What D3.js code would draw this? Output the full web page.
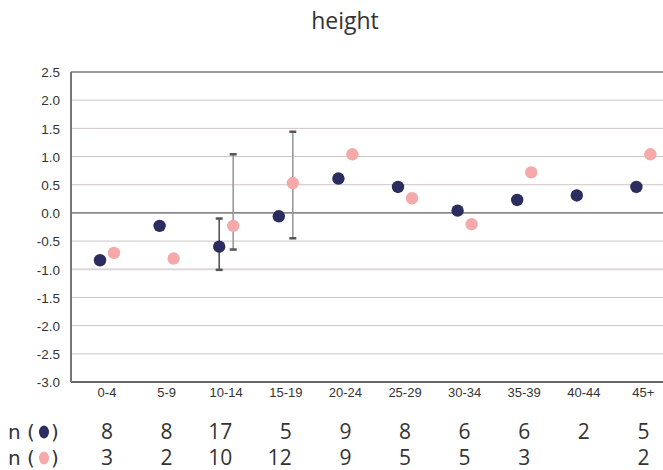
<!DOCTYPE html>
<html><head><meta charset="utf-8">
<script src="https://cdn.jsdelivr.net/npm/d3@7"></script>
<style>body{margin:0;background:#fff}svg{display:block}</style>
</head><body>
<script>
const categories = ["0-4","5-9","10-14","15-19","20-24","25-29","30-34","35-39","40-44","45+"];
const navyValues = [-0.84,-0.23,-0.60,-0.06,0.61,0.46,0.04,0.23,0.31,0.46];
const pinkValues = [-0.71,-0.81,-0.23,0.53,1.04,0.26,-0.20,0.72,null,1.04];
const navyErrLow  = [null,null,-1.01,null,null,null,null,null,null,null];
const navyErrHigh = [null,null,-0.10,null,null,null,null,null,null,null];
const pinkErrLow  = [null,null,-0.65,-0.45,null,null,null,null,null,null];
const pinkErrHigh = [null,null,1.04,1.44,null,null,null,null,null,null];
const navyN = ["8","8","17","5","9","8","6","6","2","5"];
const pinkN = ["3","2","10","12","9","5","5","3","","2"];
const yTicks = [2.5,2.0,1.5,1.0,0.5,0.0,-0.5,-1.0,-1.5,-2.0,-2.5,-3.0];
const title = "height";

(function(){
const W = 663, H = 470;
const svg = d3.select("body").append("svg").attr("width", W).attr("height", H);
const left = 71, plotTop = 72, bottom = 382;
const x = d3.scaleBand().domain(categories).range([77.2, 673.2]);
const y = d3.scaleLinear().domain([-3, 2.5]).range([bottom, plotTop]);
const navyC = "#2b2d5e", pinkC = "#f6a9a9";
const off = 7;

svg.append("text").attr("x", 345).attr("y", 29).attr("text-anchor","middle")
  .attr("font-family","Open Sans, sans-serif").attr("font-size",23).attr("fill","#333").text(title);

// gridlines
svg.append("g").selectAll("line").data(yTicks.filter(t => t !== 2.5 && t !== -3 && t !== 0)).join("line")
  .attr("x1", left).attr("x2", W).attr("y1", d => y(d)).attr("y2", d => y(d))
  .attr("stroke", d => d === -1 ? "#dcd8d8" : "#cdc6c6").attr("stroke-width", d => d === -1 ? 2 : 1);
// zero line
svg.append("line").attr("x1", left).attr("x2", W).attr("y1", y(0)).attr("y2", y(0)).attr("stroke","#333").attr("stroke-width",1);
// frame
svg.append("line").attr("x1", left).attr("x2", W).attr("y1", y(2.5)).attr("y2", y(2.5)).attr("stroke","#777").attr("stroke-width",1.5);
svg.append("line").attr("x1", left).attr("x2", W).attr("y1", y(-3)).attr("y2", y(-3)).attr("stroke","#666").attr("stroke-width",2);
svg.append("line").attr("x1", left).attr("x2", left).attr("y1", y(2.5)).attr("y2", y(-3)).attr("stroke","#777").attr("stroke-width",2);

// y axis labels
const yAxis = d3.axisLeft(y).tickValues(yTicks).tickFormat(d => d.toFixed(1)).tickSize(0).tickPadding(0);
const ya = svg.append("g").attr("transform", `translate(60,0)`).call(yAxis);
ya.select(".domain").remove();
ya.selectAll("text").attr("font-family","Liberation Sans, Arial, sans-serif").attr("font-size",13.5).attr("fill","#333").attr("dy","0.35em");

// x axis labels
const xAxis = d3.axisBottom(x).tickSize(0).tickPadding(0);
const xa = svg.append("g").attr("transform", `translate(0,${bottom+5})`).call(xAxis);
xa.select(".domain").remove();
xa.selectAll("text").attr("font-family","Liberation Sans, Arial, sans-serif").attr("font-size",13).attr("fill","#333").attr("dy","0.75em");

const cx = (c, s) => x(c) + x.bandwidth()/2 + s;

function errBars(lows, highs, shift, lineColor) {
  const data = categories.map((c,i) => ({c, lo: lows[i], hi: highs[i]})).filter(d => d.lo != null);
  const g = svg.append("g");
  g.selectAll("line.v").data(data).join("line").attr("class","v")
    .attr("x1", d => cx(d.c, shift)).attr("x2", d => cx(d.c, shift))
    .attr("y1", d => y(d.lo)).attr("y2", d => y(d.hi)).attr("stroke", lineColor).attr("stroke-width", 1.6);
  ["lo","hi"].forEach(k => {
    g.selectAll("line."+k).data(data).join("line").attr("class",k)
      .attr("x1", d => cx(d.c, shift) - 3.5).attr("x2", d => cx(d.c, shift) + 3.5)
      .attr("y1", d => y(d[k])).attr("y2", d => y(d[k])).attr("stroke", "#555").attr("stroke-width", 2.5);
  });
}
errBars(navyErrLow, navyErrHigh, -off, "#555");
errBars(pinkErrLow, pinkErrHigh, off, "#999");

svg.append("g").selectAll("circle").data(categories.map((c,i)=>({c, v: navyValues[i]})).filter(d=>d.v!=null)).join("circle")
  .attr("cx", d => cx(d.c, -off)).attr("cy", d => y(d.v)).attr("r", 6.2).attr("fill", navyC);
svg.append("g").selectAll("circle").data(categories.map((c,i)=>({c, v: pinkValues[i]})).filter(d=>d.v!=null)).join("circle")
  .attr("cx", d => cx(d.c, off)).attr("cy", d => y(d.v)).attr("r", 6.2).attr("fill", pinkC);

// n table
const rows = [{vals: navyN, color: navyC, yb: 439}, {vals: pinkN, color: pinkC, yb: 465}];
const tf = "DejaVu Sans, Verdana, sans-serif";
rows.forEach(r => {
  const g = svg.append("g");
  g.append("text").attr("x", 8).attr("y", r.yb).attr("font-family", tf).attr("font-size", 20).attr("fill","#333").text("n (");
  g.append("ellipse").attr("cx", 44).attr("cy", r.yb - 7).attr("rx", 5).attr("ry", 6.5).attr("fill", r.color);
  g.append("text").attr("x", 51).attr("y", r.yb).attr("font-family", tf).attr("font-size", 20).attr("fill","#333").text(")");
  g.selectAll("text.n").data(categories.map((c,i)=>({c, t: r.vals[i]}))).join("text").attr("class","n")
    .attr("x", d => x(d.c) + x.bandwidth()/2 + 6).attr("y", r.yb).attr("text-anchor","end")
    .attr("font-family", "Open Sans, sans-serif").attr("font-size", 21).attr("fill","#333").text(d => d.t);
});
})();
</script>
</body></html>
